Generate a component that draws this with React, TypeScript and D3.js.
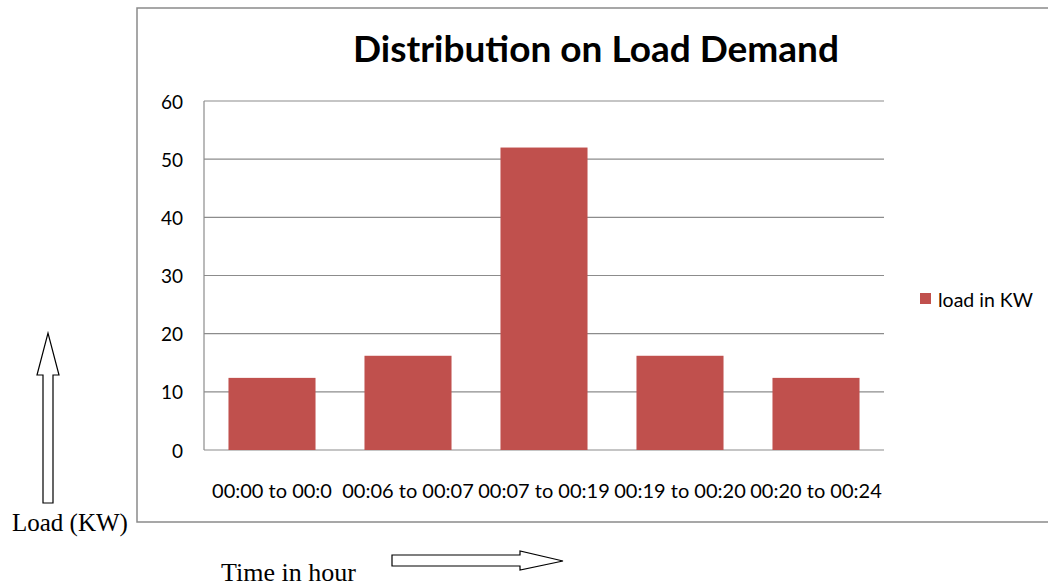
import React from "react";
import * as d3 from "d3";

const categories = ["00:00 to 00:0", "00:06 to 00:07", "00:07 to 00:19", "00:19 to 00:20", "00:20 to 00:24"];
const loadValues = [12.4, 16.2, 52, 16.2, 12.4];
const yTicks = [0, 10, 20, 30, 40, 50, 60];
const title = "Distribution on Load Demand";
const seriesName = "load in KW";

const BAR = "#C0504D";
const GRID = "#8c8c8c";
const FONT = "Lato, 'Open Sans', sans-serif";
const SERIF = "'Liberation Serif', 'DejaVu Serif', serif";

export default function App() {
  // plot area
  const left = 204, right = 884, top = 101, bottom = 450;

  const x = d3.scaleBand<string>()
    .domain(categories)
    .range([left, right])
    .paddingInner(0.36)
    .paddingOuter(0.18);

  const y = d3.scaleLinear().domain([0, 60]).range([bottom, top]);

  return (
    <svg width={1048} height={586} style={{ position: "absolute", left: 0, top: 0, background: "#fff" }}>
      {/* chart frame */}
      <rect x={137} y={8} width={940} height={514} fill="#fff" stroke="#8a8a8a" strokeWidth={1.5} />

      <text x={596} y={62} textAnchor="middle" fontFamily={FONT} fontWeight="bold" fontSize={37} fill="#000">
        {title}
      </text>

      {/* gridlines */}
      {yTicks.map((t) => (
        <line key={"g" + t} x1={left} x2={right} y1={y(t)} y2={y(t)} stroke={GRID} strokeWidth={1.2} />
      ))}
      <line x1={left} x2={left} y1={top} y2={bottom} stroke={GRID} strokeWidth={1.2} />

      {/* y tick labels */}
      {yTicks.map((t) => (
        <text key={"t" + t} x={183} y={y(t)} textAnchor="end" dominantBaseline="central"
          fontFamily={FONT} fontSize={19} fill="#000">
          {t}
        </text>
      ))}

      {/* bars */}
      {loadValues.map((v, i) => (
        <rect key={"b" + i} x={x(categories[i])} y={y(v)} width={x.bandwidth()} height={y(0) - y(v)} fill={BAR} />
      ))}

      {/* x labels */}
      {categories.map((c) => (
        <text key={c} x={(x(c) as number) + x.bandwidth() / 2} y={490} textAnchor="middle" dominantBaseline="central"
          fontFamily={FONT} fontSize={20} fill="#000">
          {c}
        </text>
      ))}

      {/* legend */}
      <rect x={920} y={293} width={11} height={11} fill={BAR} />
      <text x={938} y={299} dominantBaseline="central" fontFamily={FONT} fontSize={19.5} fill="#000">
        {seriesName}
      </text>

      {/* hand-drawn axis annotations */}
      <polygon points="43,503 53,503 53,375 59,375 48,333 37,375 43,375" fill="#fff" stroke="#000" strokeWidth={1.2} />
      <text x={12} y={531} fontFamily={SERIF} fontSize={25} fill="#000">Load (KW)</text>

      <polygon points="392,555 520,555 520,551 563,561 520,570 520,566 392,566" fill="#fff" stroke="#000" strokeWidth={1.2} />
      <text x={221} y={581} fontFamily={SERIF} fontSize={26} fill="#000">Time in hour</text>
    </svg>
  );
}
